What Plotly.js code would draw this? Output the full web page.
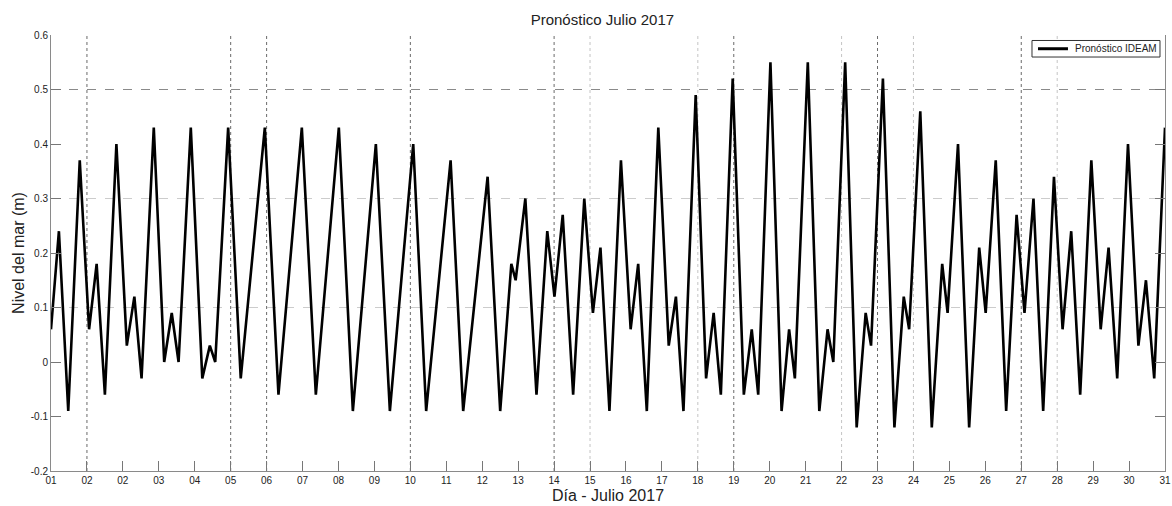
<!DOCTYPE html>
<html>
<head>
<meta charset="utf-8">
<script src="https://cdn.plot.ly/plotly-3.0.1.min.js"></script>
<style>
  html, body { margin: 0; padding: 0; background: #fff; }
  #chart { width: 1172px; height: 506px; }
</style>
</head>
<body>
<div id="chart"></div>
<script>
// Time in days since 1 July 2017 00:00
const dias = [0.00,0.22,0.48,0.80,1.06,1.27,1.50,1.82,2.11,2.32,
  2.52,2.86,3.15,3.36,3.55,3.89,4.21,4.42,4.57,4.93,
  5.28,5.95,6.33,6.98,7.37,8.01,8.40,9.04,9.43,10.08,
  10.44,11.12,11.47,12.15,12.50,12.81,12.93,13.20,13.51,13.81,
  14.01,14.24,14.53,14.84,15.08,15.29,15.54,15.86,16.13,16.34,
  16.58,16.90,17.19,17.39,17.60,17.94,18.23,18.44,18.64,18.97,
  19.28,19.50,19.68,20.02,20.33,20.54,20.70,21.06,21.38,21.61,
  21.77,22.10,22.42,22.67,22.82,23.15,23.47,23.73,23.88,24.19,
  24.51,24.80,24.95,25.24,25.55,25.83,26.01,26.29,26.58,26.87,
  27.09,27.34,27.61,27.91,28.15,28.39,28.64,28.95,29.21,29.43,
  29.67,29.97,30.26,30.47,30.70,31.00];

// Sea level (m)
const nivel = [0.06,0.24,-0.09,0.37,0.06,0.18,-0.06,0.40,0.03,0.12,
  -0.03,0.43,0.00,0.09,0.00,0.43,-0.03,0.03,0.00,0.43,
  -0.03,0.43,-0.06,0.43,-0.06,0.43,-0.09,0.40,-0.09,0.40,
  -0.09,0.37,-0.09,0.34,-0.09,0.18,0.15,0.30,-0.06,0.24,
  0.12,0.27,-0.06,0.30,0.09,0.21,-0.09,0.37,0.06,0.18,
  -0.09,0.43,0.03,0.12,-0.09,0.49,-0.03,0.09,-0.06,0.52,
  -0.06,0.06,-0.06,0.55,-0.09,0.06,-0.03,0.55,-0.09,0.06,
  0.00,0.55,-0.12,0.09,0.03,0.52,-0.12,0.12,0.06,0.46,
  -0.12,0.18,0.09,0.40,-0.12,0.21,0.09,0.37,-0.09,0.27,
  0.09,0.30,-0.09,0.34,0.06,0.24,-0.06,0.37,0.06,0.21,
  -0.03,0.40,0.03,0.15,-0.03,0.43];

const seriesName = "Pronóstico IDEAM";

// X tick labels as printed on the original axis (one per day boundary)
const xTickLabels = ["01","02","02","03","04","05","06","07","08","09",
  "10","11","12","13","14","15","16","17","18","19","20","21","22","23",
  "24","25","26","27","28","29","30","31"];

const yTickVals = [-0.2,-0.1,0,0.1,0.2,0.3,0.4,0.5,0.6];
const yTickLabels = ["-0.2","-0.1","0","0.1","0.2","0.3","0.4","0.5","0.6"];

const xTickVals = xTickLabels.map((_, i) => i);

// tick positions whose dotted grid lines show in the picture
const gridDark = [1,5,6,10,14,19,23,27];
const gridLight = [15,18,22,24,28];

const FONT = "Liberation Sans, Arial, sans-serif";

const shapes = [];
gridDark.forEach(i => shapes.push({type:'line', xref:'x', yref:'paper', x0:xTickVals[i], x1:xTickVals[i], y0:0, y1:1,
  line:{color:'#6a6a6a', width:1, dash:'dot'}, layer:'below'}));
gridLight.forEach(i => shapes.push({type:'line', xref:'x', yref:'paper', x0:xTickVals[i], x1:xTickVals[i], y0:0, y1:1,
  line:{color:'#c4c4c4', width:1, dash:'dot'}, layer:'below'}));
[[0.5,'#8a8a8a'],[0.3,'#cccccc'],[0.1,'#cccccc']].forEach(([v,c]) => shapes.push({type:'line', xref:'paper', yref:'y',
  x0:0, x1:1, y0:v, y1:v, line:{color:c, width:1, dash:'dash'}, layer:'below'}));

// MATLAB-style compact legend box (top right)
shapes.push({type:'rect', xref:'paper', yref:'paper', x0:0.8806, x1:0.9955, y0:0.9495, y1:0.9874,
  line:{color:'#333', width:1}, fillcolor:'#fff', layer:'above'});
shapes.push({type:'line', xref:'paper', yref:'paper', x0:0.8860, x1:0.9129, y0:0.9685, y1:0.9685,
  line:{color:'#000', width:3}, layer:'above'});

const trace = {
  x: dias, y: nivel, type: 'scatter', mode: 'lines',
  name: seriesName,
  line: {color: '#000', width: 2.6}
};

const layout = {
  width: 1172, height: 506,
  margin: {l: 51, r: 7, t: 35, b: 35},
  paper_bgcolor: '#fff', plot_bgcolor: '#fff',
  font: {family: FONT, color: '#222', size: 10},
  title: {text: 'Pronóstico Julio 2017', font: {family: FONT, size: 15, color: '#222'},
    x: 0.514, xanchor: 'center', y: 0.96, yanchor: 'middle', yref: 'container'},
  showlegend: false,
  annotations: [{
    text: seriesName, xref: 'paper', yref: 'paper', x: 0.9174, y: 0.9685,
    xanchor: 'left', yanchor: 'middle', showarrow: false,
    font: {family: FONT, size: 10, color: '#222'}
  }],
  xaxis: {
    range: [0, 31], tickmode: 'array', tickvals: xTickVals, ticktext: xTickLabels,
    showgrid: false, zeroline: false, showline: true, linecolor: '#8a8a8a', linewidth: 1,
    ticks: 'inside', ticklen: 10, tickcolor: '#777', tickwidth: 1,
    tickfont: {family: FONT, size: 10, color: '#222'},
    title: {text: 'Día - Julio 2017', font: {family: FONT, size: 16, color: '#222'}, standoff: 4},
    automargin: false
  },
  xaxis2: {
    overlaying: 'x', matches: 'x', side: 'top', range: [0, 31],
    tickmode: 'array', tickvals: xTickVals, showticklabels: false,
    showgrid: false, zeroline: false, showline: false,
    ticks: 'inside', ticklen: 10, tickcolor: '#777', tickwidth: 1
  },
  yaxis: {
    range: [-0.2, 0.6], tickmode: 'array', tickvals: yTickVals, ticktext: yTickLabels,
    showgrid: false, zeroline: false, showline: true, mirror: 'ticks',
    linecolor: '#8a8a8a', linewidth: 1,
    ticks: 'inside', ticklen: 10, tickcolor: '#777', tickwidth: 1,
    tickfont: {family: FONT, size: 10, color: '#222'},
    title: {text: 'Nivel del mar (m)', font: {family: FONT, size: 16, color: '#222'}, standoff: 2},
    automargin: false
  },
  shapes: shapes
};

Plotly.newPlot('chart', [trace], layout, {displayModeBar: false, staticPlot: true});
</script>
</body>
</html>
